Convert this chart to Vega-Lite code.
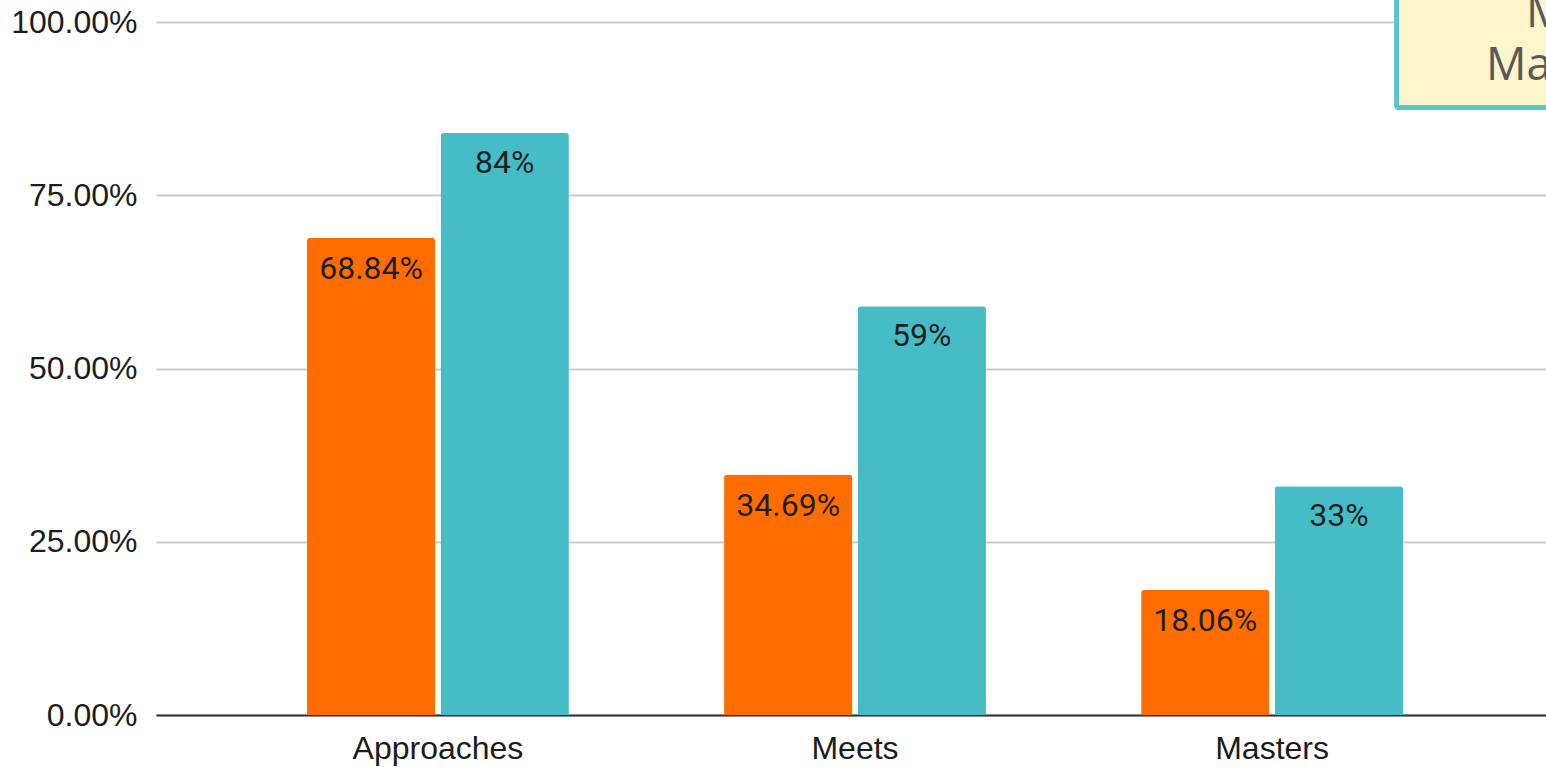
{
  "$schema": "https://vega.github.io/schema/vega-lite/v6.json",
  "width": 1390,
  "height": 693,
  "autosize": {"type": "none"},
  "padding": {"left": 156, "top": 22, "right": 0, "bottom": 52},
  "background": "white",
  "config": {"view": {"stroke": null}},
  "datasets": {
    "scores": [
      {"category": "Approaches", "series": "Campus", "value": 0.6884},
      {"category": "Approaches", "series": "State", "value": 0.84},
      {"category": "Meets", "series": "Campus", "value": 0.3469},
      {"category": "Meets", "series": "State", "value": 0.59},
      {"category": "Masters", "series": "Campus", "value": 0.1806},
      {"category": "Masters", "series": "State", "value": 0.33}
    ],
    "noteBox": [
      {"x0": 0.8925, "x1": 1.1, "y0": 0.8766, "y1": 1.1}
    ],
    "noteText": [
      {"line": "M", "px": 0.9856, "py": 0.9928},
      {"line": "Ma", "px": 0.9568, "py": 0.9163}
    ]
  },
  "layer": [
    {
      "data": {"name": "scores"},
      "encoding": {
        "x": {
          "field": "category",
          "type": "nominal",
          "sort": ["Approaches", "Meets", "Masters"],
          "scale": {"range": [0, 1398], "paddingInner": 0.372, "paddingOuter": 0.362},
          "axis": {
            "title": null,
            "labelAngle": 0,
            "ticks": false,
            "domainColor": "#333333",
            "domainWidth": 2,
            "labelFont": "Liberation Sans",
            "labelFontSize": 32,
            "labelColor": "#1c1c1c",
            "labelPadding": 18
          }
        },
        "xOffset": {
          "field": "series",
          "type": "nominal",
          "sort": ["Campus", "State"],
          "scale": {"paddingInner": 0.04}
        },
        "y": {
          "field": "value",
          "type": "quantitative",
          "scale": {"domain": [0, 1]},
          "axis": {
            "title": null,
            "values": [0, 0.25, 0.5, 0.75, 1],
            "format": ".2%",
            "domain": false,
            "ticks": false,
            "labelFont": "Liberation Sans",
            "labelFontSize": 32,
            "labelColor": "#1c1c1c",
            "labelPadding": 19,
            "gridColor": "#cccccc",
            "gridWidth": 2
          }
        }
      },
      "layer": [
        {
          "mark": {"type": "bar", "cornerRadiusTopLeft": 3, "cornerRadiusTopRight": 3},
          "encoding": {
            "color": {
              "field": "series",
              "type": "nominal",
              "scale": {"domain": ["Campus", "State"], "range": ["#ff6d01", "#46bdc6"]},
              "legend": null
            }
          }
        },
        {
          "transform": [{"filter": "datum.series === 'Campus'"}],
          "mark": {"type": "text", "baseline": "alphabetic", "dy": 41, "font": "Roboto", "fontSize": 32, "color": "#1f1f1f"},
          "encoding": {"text": {"field": "value", "type": "quantitative", "format": ".2%"}}
        },
        {
          "transform": [{"filter": "datum.series === 'State'"}],
          "mark": {"type": "text", "baseline": "alphabetic", "dy": 40, "font": "Roboto", "fontSize": 32, "color": "#1f1f1f"},
          "encoding": {"text": {"field": "value", "type": "quantitative", "format": ".0%"}}
        }
      ]
    },
    {
      "data": {"name": "noteBox"},
      "mark": {"type": "rect", "fill": "#fff5cc", "stroke": "#5bc4cb", "strokeWidth": 5, "cornerRadius": 2},
      "encoding": {
        "x": {"field": "x0", "type": "quantitative", "scale": {"domain": [0, 1]}, "axis": null},
        "x2": {"field": "x1"},
        "y": {"field": "y0", "type": "quantitative", "scale": {"domain": [0, 1]}},
        "y2": {"field": "y1"}
      }
    },
    {
      "data": {"name": "noteText"},
      "mark": {"type": "text", "align": "left", "baseline": "alphabetic", "font": "Open Sans", "fontSize": 45, "color": "#595959"},
      "encoding": {
        "x": {"field": "px", "type": "quantitative", "scale": {"domain": [0, 1]}, "axis": null},
        "y": {"field": "py", "type": "quantitative", "scale": {"domain": [0, 1]}},
        "text": {"field": "line"}
      }
    }
  ],
  "resolve": {"scale": {"x": "independent"}}
}
